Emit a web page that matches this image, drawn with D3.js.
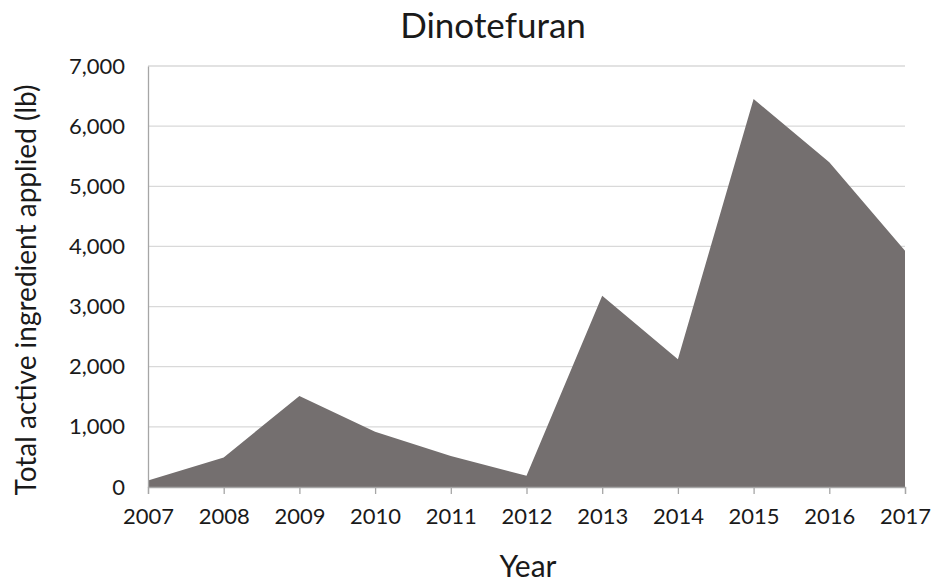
<!DOCTYPE html>
<html><head><meta charset="utf-8">
<script src="https://cdn.jsdelivr.net/npm/d3@7"></script>
<style>body{margin:0;background:#fff;} svg{display:block;} text{font-family:Lato,"Open Sans",sans-serif;fill:#1a1a1a;}</style>
</head><body>
<svg id="c" width="935" height="585"></svg>
<script>
const years = [2007,2008,2009,2010,2011,2012,2013,2014,2015,2016,2017];
const values = [110,490,1515,920,515,185,3180,2125,6450,5400,3930];
const yTicks = [0,1000,2000,3000,4000,5000,6000,7000];
const title = "Dinotefuran";
const xLabel = "Year";
const yLabel = "Total active ingredient applied (lb)";

const svg = d3.select("#c");
const m = {l:148, r:30, t:66, b:98};
const W = 935, H = 585;
const x = d3.scaleLinear().domain([2007,2017]).range([m.l, W - m.r]);
const y = d3.scaleLinear().domain([0,7000]).range([H - m.b, m.t]);

// gridlines
svg.append("g").selectAll("line").data(yTicks.filter(d=>d>0)).join("line")
  .attr("x1", m.l).attr("x2", W - m.r)
  .attr("y1", d=>y(d)).attr("y2", d=>y(d))
  .attr("stroke", "#d9d9d9").attr("stroke-width", 1.3);

// area
const data = years.map((yr,i)=>({yr, v: values[i]}));
svg.append("path").datum(data)
  .attr("d", d3.area().x(d=>x(d.yr)).y0(y(0)).y1(d=>y(d.v)))
  .attr("fill", "#746f6f");

// y axis
const ya = svg.append("g").attr("transform", `translate(${m.l},0)`)
  .call(d3.axisLeft(y).tickValues(yTicks).tickFormat(d3.format(",")).tickSize(0).tickPadding(23));
ya.select(".domain").attr("stroke", "#a6a6a6").attr("stroke-width", 1.3);
ya.selectAll("text").style("font-size", "22px").attr("fill", "#1a1a1a");

// x axis
const xa = svg.append("g").attr("transform", `translate(0,${y(0)})`)
  .call(d3.axisBottom(x).tickValues(years).tickFormat(d3.format("d")).tickSize(7).tickPadding(14));
xa.select(".domain").attr("stroke", "#a6a6a6").attr("stroke-width", 1.3);
xa.selectAll("line").attr("stroke", "#a6a6a6").attr("stroke-width", 1.3);
xa.selectAll("text").style("font-size", "22px").attr("fill", "#1a1a1a");

// title
svg.append("text").attr("x", 493).attr("y", 38).attr("text-anchor", "middle")
  .style("font-size", "35px").text(title);
// x label
svg.append("text").attr("x", 528).attr("y", 577).attr("text-anchor", "middle")
  .style("font-size", "30px").text(xLabel);
// y label
svg.append("text").attr("transform", "translate(36,290) rotate(-90)").attr("text-anchor", "middle")
  .style("font-size", "28px").text(yLabel);
</script>
</body></html>
